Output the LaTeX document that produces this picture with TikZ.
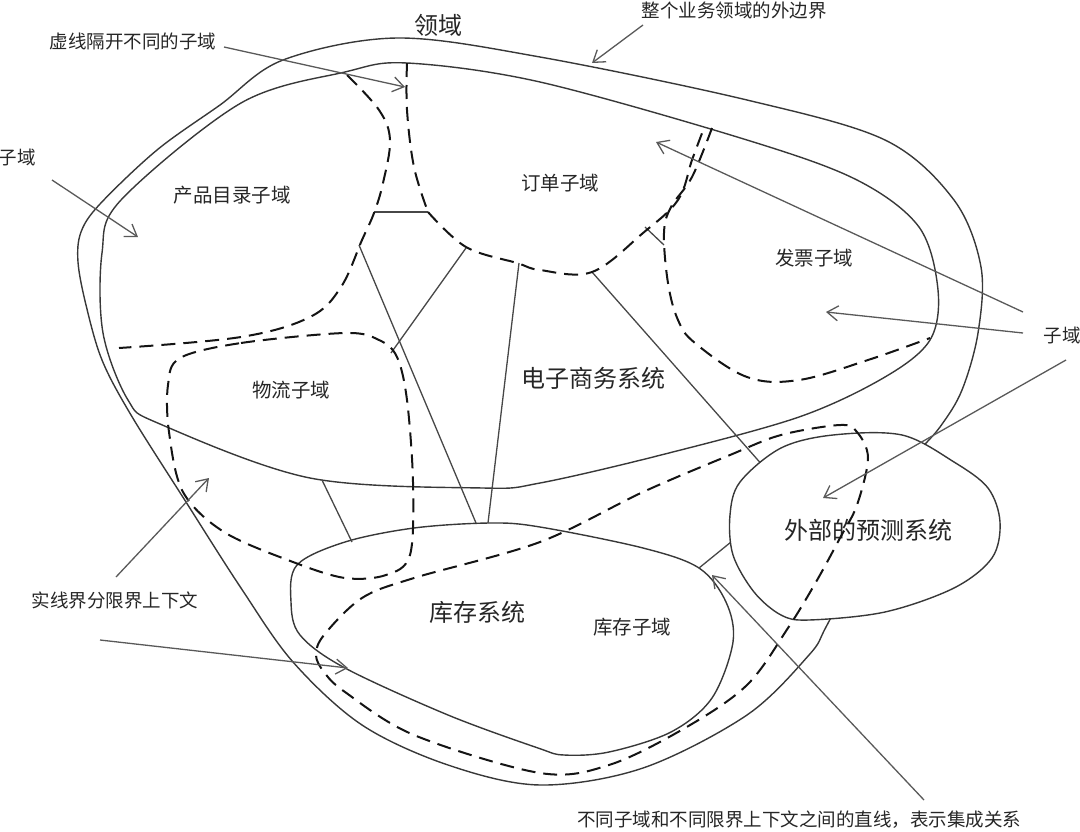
\documentclass[tikz,border=0pt]{standalone}
\usepackage{fontspec}
\newfontfamily\cjk{Noto Sans CJK SC}
\usetikzlibrary{arrows.meta}
\begin{document}
\begin{tikzpicture}[x=1pt,y=-1pt,
  bound/.style={draw=black!78, line width=1.4pt},
  dashb/.style={draw=black!92, line width=2pt, dash pattern=on 14pt off 8pt},
  link/.style={draw=black!72, line width=1.3pt},
  note/.style={draw=black!65, line width=1.3pt, -{Straight Barb[length=11pt,width=15pt]}},
  small/.style={font=\cjk\fontsize{18.5}{20}\selectfont, text=black!85, inner sep=0pt},
  mid/.style={font=\cjk\fontsize{19.5}{21}\selectfont, text=black!85, inner sep=0pt},
  big/.style={font=\cjk\fontsize{24}{26}\selectfont, text=black!85, inner sep=0pt},
]
\useasboundingbox (0,0) rectangle (1080,831);

% outer domain boundary
\draw[bound] plot[smooth cycle, tension=0.55] coordinates {
 (283,60) (397,38) (540,57) (747,100) (885,140) (954,200) (981,267) (978,333)
 (962,390) (940,427) (905,470) (860,560) (826,627) (809,655) (747,715) (643,768) (540,785)
 (448,765) (362,725) (293,662) (241,588) (186,502) (131,415) (102,360) (86,305)
 (78,262) (81,232) (100,204) (157,150) (220,105)};

% e-commerce bounded context
\draw[bound] plot[smooth cycle, tension=0.55] coordinates {
 (407,63) (540,82) (747,140) (857,180) (919,227) (938,290) (930,340) (885,377)
 (799,417) (661,455) (540,483) (483,488) (310,478) (160,424) (128,400) (103,333)
 (102,253) (121,200) (241,103) (345,72)};

% inventory bounded context
\draw[bound] plot[smooth cycle, tension=0.55] coordinates {
 (297,565) (345,542) (414,528) (490,523) (540,527) (643,548) (699,568) (726,602)
 (733,642) (712,698) (671,732) (609,752) (564,755) (538,748) (448,715) (345,668)
 (300,635) (291,602)};

% integration lines
\coordinate (c1a) at (359,245); \coordinate (c1b) at (476,523);
\coordinate (c2a) at (466,248); \coordinate (c2b) at (391,353);
\coordinate (c3a) at (519,263); \coordinate (c3b) at (488,523);
\coordinate (c4a) at (322,480); \coordinate (c4b) at (352,542);
\coordinate (c5a) at (592,272); \coordinate (c5b) at (764,467);
\coordinate (c6a) at (699,568); \coordinate (c6b) at (731,542);
\coordinate (c7a) at (374,212); \coordinate (c7b) at (428,212);
\coordinate (c8a) at (645,227); \coordinate (c8b) at (664,245);
\draw[link] (c1a) -- (c1b);
\draw[link] (c2a) -- (c2b);
\draw[link] (c3a) -- (c3b);
\draw[link] (c4a) -- (c4b);
\draw[link] (c5a) -- (c5b);
\draw[link] (c6a) -- (c6b);
\draw[link] (c7a) -- (c7b);
\draw[link] (c8a) -- (c8b);

% external forecast system
\draw[bound, fill=white] plot[smooth cycle, tension=0.55] coordinates {
 (833,435) (902,435) (954,462) (988,488) (1000,522) (992,558) (954,588) (885,612)
 (809,620) (781,615) (754,592) (733,555) (730,515) (740,482) (781,448)};

% labels
\node[small] (lbl1) at (133,41) {虚线隔开不同的子域};
\node[small] (lbl2) at (17,157) {子域};
\node[big]   (dom)  at (438,25) {领域};
\node[small] (lbl3) at (734,10) {整个业务领域的外边界};
\node[small] (lbl4) at (1062,335) {子域};
\node[small] (lbl5) at (115,600) {实线界分限界上下文};
\node[small] (lbl6) at (799,820) {不同子域和不同限界上下文之间的直线，表示集成关系};
\node[mid] (t1) at (232,195) {产品目录子域};
\node[mid] (t2) at (560,183) {订单子域};
\node[mid] (t3) at (814,258) {发票子域};
\node[mid] (t4) at (291,390) {物流子域};
\node[big] (t5) at (593,378) {电子商务系统};
\node[big] (t6) at (477,612) {库存系统};
\node[mid] (t7) at (632,627) {库存子域};
\node[big] (t8) at (868,530) {外部的预测系统};

% dashed subdomain separators
\draw[dashb] plot[smooth, tension=0.6] coordinates {(407,63) (407,110) (414,167) (428,212)};
\draw[dashb] plot[smooth, tension=0.6] coordinates {
 (428,212) (466,247) (517,263) (540,270) (592,272) (643,233) (678,200) (692,160) (704,128)};
\draw[dashb] plot[smooth, tension=0.6] coordinates {
 (347,75) (379,110) (390,140) (383,183) (374,213) (362,240) (341,287) (310,317) (241,337) (119,348)};
\draw[dashb] plot[smooth, tension=0.6] coordinates {
 (712,128) (692,177) (671,207) (664,233) (668,283) (678,320) (695,343) (747,377)
 (799,380) (868,360) (930,338)};
\draw[dashb] plot[smooth cycle, tension=0.55] coordinates {
 (180,358) (241,343) (345,333) (379,340) (397,357) (407,400) (413,482) (410,555)
 (386,575) (345,578) (293,562) (224,532) (183,492) (169,432) (168,385)};
\draw[dashb] plot[smooth cycle, tension=0.55] coordinates {
 (540,542) (414,578) (362,598) (324,635) (316,655) (324,672) (345,692) (414,735)
 (540,773) (609,765) (685,728) (747,685) (788,628) (816,582) (840,538) (857,505)
 (868,458) (857,432) (840,425) (781,435) (730,455) (643,492)};

% annotation arrows
\coordinate (a1s) at (224,47);   \coordinate (a1e) at (405,87);
\coordinate (a2s) at (52,180);   \coordinate (a2e) at (138,237);
\coordinate (a3s) at (643,25);   \coordinate (a3e) at (592,63);
\coordinate (a4s) at (1023,312); \coordinate (a4e) at (656,142);
\coordinate (a5s) at (1023,333); \coordinate (a5e) at (826,312);
\coordinate (a6s) at (1066,360); \coordinate (a6e) at (823,498);
\coordinate (a7s) at (116,577);  \coordinate (a7e) at (209,478);
\coordinate (a8s) at (100,640);  \coordinate (a8e) at (348,668);
\coordinate (a9s) at (924,800);  \coordinate (a9e) at (712,575);
\foreach \i in {1,...,9} {\draw[note] (a\i s) -- (a\i e);}
\end{tikzpicture}
\end{document}
